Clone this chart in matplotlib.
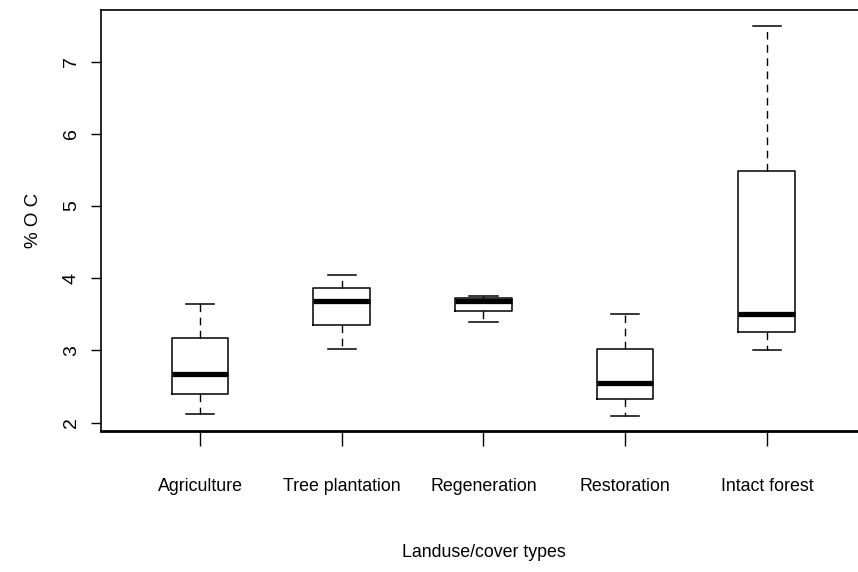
import numpy as np
import matplotlib
matplotlib.use("Agg")
import matplotlib.pyplot as plt

plt.rcParams['font.family'] = ['Liberation Sans Narrow', 'Liberation Sans', 'DejaVu Sans']

# landuse classes and five-number summaries
labels = ['Agriculture', 'Tree plantation', 'Regeneration', 'Restoration', 'Intact forest']
whis_lo = [2.12, 3.02, 3.40, 2.09, 3.00]
q1 = [2.40, 3.35, 3.55, 2.33, 3.25]
med = [2.67, 3.68, 3.69, 2.55, 3.50]
q3 = [3.17, 3.87, 3.73, 3.02, 5.49]
whis_hi = [3.65, 4.05, 3.75, 3.50, 7.50]
yticks = [2, 3, 4, 5, 6, 7]

stats = []
for i in range(len(labels)):
    stats.append(dict(label=labels[i], whislo=whis_lo[i], q1=q1[i], med=med[i],
                      q3=q3[i], whishi=whis_hi[i], fliers=[]))

fs = 12.8

fig = plt.figure(figsize=(8.58, 5.72), dpi=100)
# R style plot region, right edge runs a bit past the image
ax = fig.add_axes([101/858, 1-431/572, (866-101)/858, (431-10)/572])

ax.bxp(stats, positions=range(1, 6), widths=0.4, capwidths=0.2, showfliers=False,
       boxprops=dict(color='black', linewidth=1.1),
       medianprops=dict(color='black', linewidth=3.8, solid_capstyle='butt'),
       whiskerprops=dict(color='black', linewidth=1.0, linestyle=(0, (5.5, 4))),
       capprops=dict(color='black', linewidth=1.1))

ax.set_xlim(0.3, 5.7)
ax.set_ylim(1.884, 7.716)
ax.set_yticks(yticks)
ax.set_xticks(range(1, 6))
ax.set_xticklabels(labels, fontsize=fs)
ax.set_yticklabels([str(v) for v in yticks], fontsize=14)
plt.setp(ax.get_yticklabels(), rotation=90, va='center')

ax.tick_params(axis='x', length=11, width=1.0, pad=23)
ax.tick_params(axis='y', length=7.2, width=1.0, pad=8)
for s in ['top', 'left', 'right']:
    ax.spines[s].set_linewidth(1.2)
ax.spines['bottom'].set_linewidth(2.0)

ax.set_xlabel('Landuse/cover types', fontsize=fs, labelpad=35)
ax.set_ylabel('% O C', fontsize=13.5, labelpad=15)

fig.savefig('out.png', dpi=100)
